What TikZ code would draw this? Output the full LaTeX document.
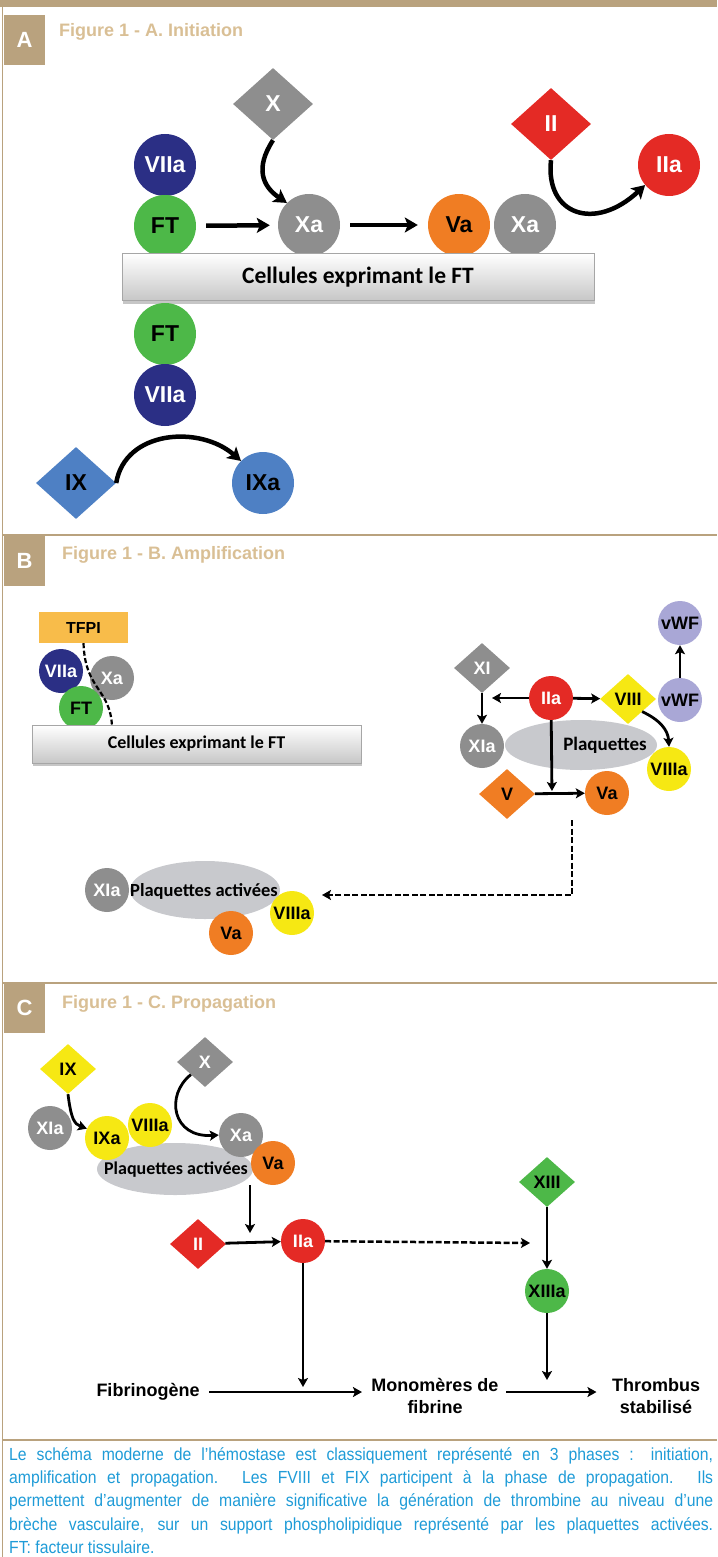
\documentclass[tikz,border=0pt]{standalone}
\usepackage{fontspec}
\setmainfont{Liberation Sans}
\newfontfamily\calib{Carlito}
\newfontfamily\legfont[FakeStretch=0.9]{Liberation Sans}
\usetikzlibrary{shapes.geometric,arrows.meta,shadows}

\definecolor{cadre}{HTML}{B9A27E}
\definecolor{titre}{HTML}{D9BF95}
\definecolor{legende}{HTML}{1E9BD7}
\definecolor{bleunuit}{HTML}{2B2F85}
\definecolor{vertft}{HTML}{4DB848}
\definecolor{grisf}{HTML}{8E8E8E}
\definecolor{orangef}{HTML}{F07D23}
\definecolor{rougef}{HTML}{E42A25}
\definecolor{bleuf}{HTML}{4E80C4}
\definecolor{jaunef}{HTML}{F6E813}
\definecolor{lilasf}{HTML}{A9A7D6}
\definecolor{tfpif}{HTML}{F8BC4A}
\definecolor{plaqf}{HTML}{C8C9CD}

\tikzset{
  grand/.style={circle,inner sep=0pt,minimum size=62pt,font=\bfseries\fontsize{23}{23}\selectfont},
  petit/.style={circle,inner sep=0pt,minimum size=44pt,font=\bfseries\fontsize{18}{18}\selectfont},
  grandlos/.style={diamond,inner sep=0pt,minimum width=80pt,minimum height=72pt,font=\bfseries\fontsize{23}{23}\selectfont},
  petitlos/.style={diamond,inner sep=0pt,minimum width=56pt,minimum height=50pt,font=\bfseries\fontsize{18}{18}\selectfont},
  bleuF/.style={fill=bleunuit,text=white},
  vertF/.style={fill=vertft,text=black},
  grisF/.style={fill=grisf,text=white},
  orangeF/.style={fill=orangef,text=black},
  rougeF/.style={fill=rougef,text=white},
  bleuclF/.style={fill=bleuf,text=black},
  jauneF/.style={fill=jaunef,text=black},
  lilasF/.style={fill=lilasf,text=black},
  plaq/.style={ellipse,fill=plaqf,inner sep=0pt},
  txtplaq/.style={font=\calib\bfseries\fontsize{18}{18}\selectfont},
  barre/.style={rectangle,draw=black!35,top color=white,bottom color=black!22,inner sep=0pt,
                drop shadow={shadow xshift=1pt,shadow yshift=-3pt,opacity=0.45}},
  lettre/.style={fill=cadre,text=white,minimum width=41pt,minimum height=50pt,inner sep=0pt,
                 font=\bfseries\fontsize{22}{22}\selectfont},
  entete/.style={text=titre,anchor=west,inner sep=0pt,font=\bfseries\fontsize{18}{18}\selectfont},
  mot/.style={font=\bfseries\fontsize{18}{22}\selectfont},
  flA/.style={line width=4.5pt,-{Stealth[length=13pt,width=15pt,inset=3pt]}},
  flB/.style={line width=2.8pt,-{Stealth[length=9pt,width=10pt,inset=2pt]}},
  pointfl/.style={line width=2.5pt,dash pattern=on 6pt off 2.5pt,-{Stealth[length=9pt,width=10pt,inset=2pt]}},
  pointill/.style={line width=2.2pt,dash pattern=on 5pt off 2.5pt},
}

\begin{document}
\begin{tikzpicture}[x=1pt,y=-1pt]

  \useasboundingbox (0,0) rectangle (717,1557);

  \begin{scope}   % cadre et separations
    \fill[cadre] (0,0) rectangle (717,7);
    \draw[cadre,line width=1.6pt] (2.5,7)--(2.5,1557);
    \draw[cadre,line width=1.2pt] (2.5,535)--(717,535);
    \draw[cadre,line width=1.2pt] (2.5,983)--(717,983);
    \draw[cadre,line width=1.2pt] (2.5,1440)--(717,1440);
  \end{scope}

  \begin{scope}   % A. initiation
    \node[lettre] (lA) at (24.5,40) {A};
    \node[entete] (tA) at (59,32) {Figure 1 - A. Initiation};

    \node[grand,bleuF] (aVIIa) at (165,165) {VIIa};
    \node[grand,vertF] (aFT) at (165,226) {FT};
    \node[grandlos,grisF] (aX) at (273,104) {X};
    \node[grand,grisF] (aXa) at (309,225) {Xa};
    \node[grand,orangeF] (aVa) at (459,225) {Va};
    \node[grand,grisF] (aXab) at (525,225) {Xa};
    \node[grandlos,rougeF] (aII) at (551,124) {II};
    \node[grand,rougeF] (aIIa) at (669,165) {IIa};
    \node[barre,minimum width=472pt,minimum height=47pt,
          font=\calib\bfseries\fontsize{23.5}{23.5}\selectfont] (aCell) at (358,277)
          {Cellules exprimant le FT};
    \node[grand,vertF] (aFTb) at (165,334) {FT};
    \node[grand,bleuF] (aVIIab) at (165,395) {VIIa};
    \node[grandlos,bleuclF] (aIX) at (76,483) {IX};
    \node[grand,bleuclF] (aIXa) at (263,483) {IXa};

    \draw[flA,shorten <=10pt,shorten >=8pt] (aFT)--(aXa);
    \draw[flA,shorten <=10pt,shorten >=10pt] (aXa)--(aVa);
    \draw[flA] (aX.south) .. controls (255,168) and (262,186) .. (aXa.north west);
    \draw[flA] (aII.south) .. controls (545,215) and (595,232) .. (aIIa.220);
    \draw[flA] (aIX.east) .. controls (125,430) and (200,425) .. (aIXa.north west);
  \end{scope}

  \begin{scope}   % B. amplification
    \node[lettre] (lB) at (24.5,561) {B};
    \node[entete] (tB) at (62,555) {Figure 1 - B. Amplification};

    % cellule, TFPI
    \node[fill=tfpif,minimum width=89pt,minimum height=31pt,inner sep=0pt,
          font=\bfseries\fontsize{16}{16}\selectfont] (bTFPI) at (83.5,627.5) {TFPI};
    \node[petit,bleuF] (bVIIa) at (61,671) {VIIa};
    \node[petit,grisF] (bXa) at (112,678) {Xa};
    \node[petit,vertF] (bFT) at (81,708) {FT};
    \node[barre,minimum width=329pt,minimum height=38pt,
          font=\calib\bfseries\fontsize{18}{18}\selectfont] (bCell) at (196.5,744)
          {Cellules exprimant le FT};
    \coordinate (bcoupe) at (112,726);
    \draw[pointill] (bTFPI.south) .. controls (85,690) and (110,688) .. (bcoupe);

    % plaquettes
    \node[petit,lilasF] (bvWFh) at (680,623) {vWF};
    \node[petit,lilasF] (bvWF) at (680,700) {vWF};
    \node[petitlos,grisF] (bXI) at (482,668) {XI};
    \node[plaq,minimum width=152pt,minimum height=50pt] (bPlaq) at (581,745) {};
    \node[txtplaq,font=\calib\bfseries\fontsize{19}{19}\selectfont] (bPlaqtxt) at (605,745) {Plaquettes};
    \node[petit,rougeF] (bIIa) at (551,698) {IIa};
    \node[petitlos,jauneF] (bVIII) at (628,699) {VIII};
    \node[petit,grisF] (bXIa) at (482,746) {XIa};
    \node[petit,jauneF] (bVIIIa) at (669,769) {VIIIa};
    \node[petitlos,orangeF] (bV) at (507,794) {V};
    \node[petit,orangeF] (bVa) at (607,793) {Va};

    \coordinate (bcroix) at (483,698);
    \coordinate (bjonction) at (552,795);
    \draw[flB,shorten >=9pt] (bIIa)--(bcroix);
    \draw[flB] (bXI)--(bXIa);
    \draw[flB] (bIIa)--(bVIII);
    \draw[flB] (bvWF)--(bvWFh);
    \draw[flB] (bVIII.south east) .. controls (660,720) and (668,730) .. (bVIIIa.north);
    \draw[flB,shorten >=4pt] (bIIa)--(bjonction);
    \draw[flB] (bV)--(bVa);

    % plaquettes activees
    \coordinate (bdepart) at (572,820);
    \coordinate (bfin) at (322,895);
    \draw[pointfl] (bdepart) |- (bfin);

    \node[plaq,minimum width=150pt,minimum height=58pt] (bPlaqact) at (205,890) {};
    \node[petit,grisF] (bXIab) at (107,890) {XIa};
    \node[txtplaq,font=\calib\bfseries\fontsize{18.5}{18.5}\selectfont] (bPAtxt) at (204,891) {Plaquettes activées};
    \node[petit,orangeF] (bVab) at (231,933) {Va};
    \node[petit,jauneF] (bVIIIab) at (292,913) {VIIIa};
  \end{scope}

  \begin{scope}   % C. propagation
    \node[lettre] (lC) at (24.5,1008) {C};
    \node[entete] (tC) at (62,1004) {Figure 1 - C. Propagation};

    \node[petitlos,jauneF] (cIX) at (68,1069) {IX};
    \node[petitlos,grisF] (cX) at (205,1062) {X};
    \node[plaq,minimum width=156pt,minimum height=52pt] (cPlaq) at (175,1169) {};
    \node[petit,grisF] (cXIa) at (50,1128) {XIa};
    \node[petit,jauneF] (cVIIIa) at (150,1125) {VIIIa};
    \node[petit,jauneF] (cIXa) at (107,1138) {IXa};
    \node[petit,grisF] (cXa) at (241,1135) {Xa};
    \node[txtplaq] (cPlaqtxt) at (176,1170) {Plaquettes activées};
    \node[petit,orangeF] (cVa) at (273,1163) {Va};

    \draw[flB] (cIX.south) .. controls (71,1118) and (74,1124) .. (cIXa.155);
    \draw[flB] (cX.south west) .. controls (165,1095) and (172,1138) .. (cXa.west);

    \node[petitlos,rougeF] (cII) at (198,1244) {II};
    \node[petit,rougeF] (cIIa) at (303,1241) {IIa};
    \node[petitlos,vertF] (cXIII) at (547,1182) {XIII};
    \node[petit,vertF] (cXIIIa) at (547,1291) {XIIIa};

    \coordinate (cdescente) at (250,1185);
    \coordinate (cjonction) at (250,1243);
    \coordinate (cfleche) at (530,1243);
    \draw[flB,shorten >=10pt] (cdescente)--(cjonction);
    \draw[flB] (cII)--(cIIa);
    \draw[pointfl] (cIIa)--(cfleche);
    \draw[flB] (cXIII)--(cXIIIa);

    \node[mot] (cFib) at (148,1392) {Fibrinogène};
    \node[mot,align=center] (cMono) at (435,1396) {Monomères de\\fibrine};
    \node[mot,align=center] (cThr) at (656,1396) {Thrombus\\stabilisé};

    \draw[flB,shorten <=6pt,shorten >=6pt] (cFib.east)--(cFib.east -| cMono.west);
    \draw[flB,shorten <=4pt,shorten >=12pt] (cMono.east |- cFib)--(cThr.west |- cFib);
    \draw[flB,shorten >=5pt] (cIIa)--(cIIa |- cFib);
    \draw[flB,shorten >=12pt] (cXIIIa)--(cXIIIa |- cFib);
  \end{scope}

  % legende
  \node[anchor=north west,text width=704pt,align=justify,inner sep=0pt,text=legende,
        font=\legfont\fontsize{17.5}{23.3}\selectfont] (legende) at (9,1447)
    {Le schéma moderne de l’hémostase est classiquement représenté en 3 phases : initiation,\linebreak
     amplification et propagation. Les FVIII et FIX participent à la phase de propagation. Ils\linebreak
     permettent d’augmenter de manière significative la génération de thrombine au niveau d’une\linebreak
     brèche vasculaire, sur un support phospholipidique représenté par les plaquettes activées.\linebreak
     FT: facteur tissulaire.};

\end{tikzpicture}
\end{document}
